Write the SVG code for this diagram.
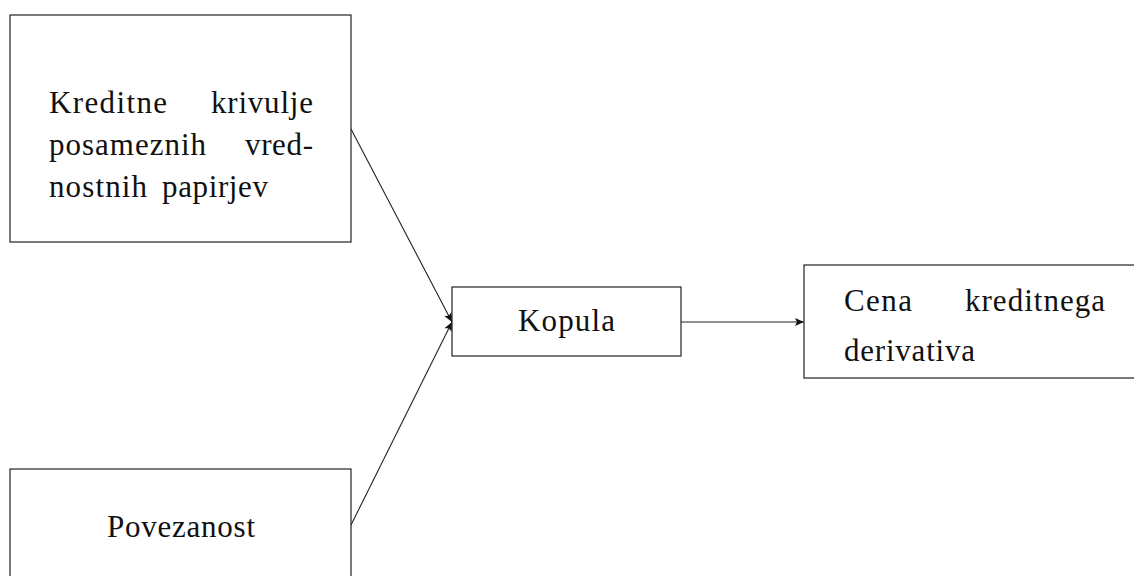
<svg xmlns="http://www.w3.org/2000/svg" width="1134" height="576" viewBox="0 0 1134 576">
<defs>
<style>
.box{fill:#fff;stroke:#222;stroke-width:1.2}
.t{font-family:"Liberation Serif","DejaVu Serif",serif;font-size:31px;fill:#111}
.c{fill:none;stroke:#222;stroke-width:1.1}
</style>
<marker id="ah" markerUnits="userSpaceOnUse" markerWidth="12" markerHeight="10" refX="9" refY="4" orient="auto">
<path d="M0,0 L9,4 L0,8 L2,4 Z" fill="#111"/>
</marker>
</defs>
<rect width="1134" height="576" fill="#fff"/>
<g id="connectors">
<line class="c" x1="351" y1="129" x2="452" y2="322" marker-end="url(#ah)"/>
<line class="c" x1="351" y1="525" x2="452" y2="322" marker-end="url(#ah)"/>
<line class="c" x1="681" y1="322" x2="804" y2="322" marker-end="url(#ah)"/>
</g>
<g id="krivulje">
<rect class="box" x="10" y="15" width="341" height="227"/>
<text class="t" x="49" y="113" textLength="118" lengthAdjust="spacing">Kreditne</text>
<text class="t" x="211" y="113" textLength="102" lengthAdjust="spacing">krivulje</text>
<text class="t" x="49" y="155" textLength="157" lengthAdjust="spacing">posameznih</text>
<text class="t" x="245" y="155" textLength="68" lengthAdjust="spacing">vred-</text>
<text class="t" x="49" y="197" textLength="98" lengthAdjust="spacing">nostnih</text>
<text class="t" x="162" y="197" textLength="106" lengthAdjust="spacing">papirjev</text>
</g>
<g id="povezanost">
<rect class="box" x="10" y="469" width="341" height="120"/>
<text class="t" x="107" y="537" textLength="148" lengthAdjust="spacing">Povezanost</text>
</g>
<g id="kopula">
<rect class="box" x="452" y="287" width="229" height="69"/>
<text class="t" x="518" y="331" textLength="97" lengthAdjust="spacing">Kopula</text>
</g>
<g id="cena">
<rect class="box" x="804" y="265" width="340" height="113"/>
<text class="t" x="844" y="311" textLength="68" lengthAdjust="spacing">Cena</text>
<text class="t" x="965" y="311" textLength="140" lengthAdjust="spacing">kreditnega</text>
<text class="t" x="844" y="361" textLength="131" lengthAdjust="spacing">derivativa</text>
</g>
</svg>
